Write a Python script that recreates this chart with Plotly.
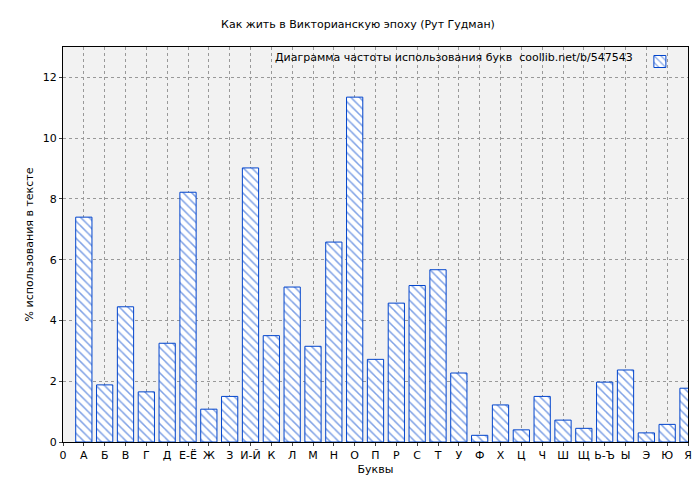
import plotly.graph_objects as go

tick_labels = ["0", "А", "Б", "В", "Г", "Д", "Е-Ё", "Ж", "З", "И-Й", "К", "Л", "М", "Н", "О",
               "П", "Р", "С", "Т", "У", "Ф", "Х", "Ц", "Ч", "Ш", "Щ", "Ь-Ъ", "Ы", "Э", "Ю", "Я"]
positions = list(range(1, 31))
values = [7.4, 1.88, 4.45, 1.65, 3.25, 8.22, 1.08, 1.5, 9.02, 3.5, 5.1, 3.15, 6.58, 11.35, 2.72,
          4.57, 5.15, 5.67, 2.27, 0.22, 1.22, 0.4, 1.5, 0.72, 0.45, 1.97, 2.37, 0.3, 0.58, 1.77]

blue = "#0044cc"
fig = go.Figure()
fig.add_trace(go.Bar(
    x=positions, y=values, width=0.78, name="",
    marker=dict(color="white", line=dict(color=blue, width=1),
                pattern=dict(shape="\\", fgcolor=blue, bgcolor="white", size=6, solidity=0.25)),
    showlegend=True,
))

fig.add_annotation(
    x=0.915, y=0.995, xref="paper", yref="paper", xanchor="right", yanchor="top",
    text="Диаграмма частоты использования букв  coollib.net/b/547543",
    showarrow=False, font=dict(size=11, color="#000"),
)

fig.update_layout(
    width=700, height=480,
    title=dict(text="Как жить в Викторианскую эпоху (Рут Гудман)", x=0.5, y=0.975,
               font=dict(size=11, color="#000")),
    font=dict(family="DejaVu Sans, Verdana, sans-serif", size=11, color="#000"),
    paper_bgcolor="white", plot_bgcolor="#f2f2f2",
    margin=dict(l=55, r=20, t=39, b=46),
    showlegend=True,
    legend=dict(x=0.995, y=1.0, xanchor="right", yanchor="top", bgcolor="rgba(0,0,0,0)",
                font=dict(size=1)),
    xaxis=dict(
        range=[0, 30], tickmode="array", tickvals=list(range(31)), ticktext=tick_labels,
        showgrid=True, gridcolor="#999", griddash="dot", gridwidth=1,
        showline=True, linecolor="#000", mirror=True, ticks="outside", ticklen=3,
        title=dict(text="Буквы", standoff=4, font=dict(size=11)), zeroline=False,
    ),
    yaxis=dict(
        range=[0, 13], dtick=2, showgrid=True, gridcolor="#999", griddash="dot",
        showline=True, linecolor="#000", mirror=True, ticks="outside", ticklen=3,
        title=dict(text="% использования в тексте", standoff=6, font=dict(size=11)),
        zeroline=False,
    ),
)

fig.write_html("out.html")
